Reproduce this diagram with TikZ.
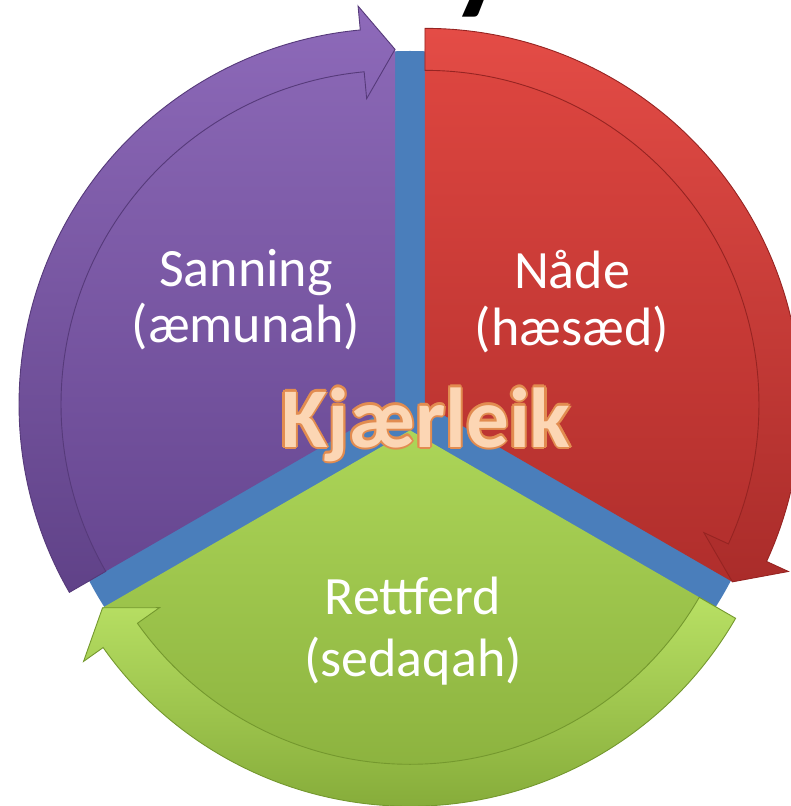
\documentclass[tikz,border=0pt]{standalone}
\usepackage{fontspec}
\setmainfont{Carlito}
\begin{document}
\begin{tikzpicture}[x=1pt,y=1pt,
  lbl/.style={text=white,font=\fontsize{54}{58}\selectfont,anchor=base,inner sep=0pt},
  kjtext/.style={font=\fontsize{85}{85}\bfseries\selectfont,anchor=base,inner sep=0pt},
  band/.style={line width=0.9pt}]

\useasboundingbox (-410,-393) rectangle (380,413);

% cut-off title above
\node [font=\fontsize{125}{125}\bfseries\selectfont,anchor=base,inner sep=0pt] (title) at (70,415) {y};

% blue disc behind
\fill [color={rgb,255:red,74;green,126;blue,187}] (0,0) circle (362);

% Sanning
\begin{scope}[shift={(150:17.3)}]
\shade [top color={rgb,255:red,138;green,103;blue,181}, bottom color={rgb,255:red,102;green,70;blue,144}]
  (0,0) -- (210:355) arc (210:90:355) -- cycle;
\shade [band, draw={rgb,255:red,86;green,58;blue,122}, top color={rgb,255:red,142;green,106;blue,186}, bottom color={rgb,255:red,96;green,66;blue,136}]
  (210:334) arc (210:95.3:334) -- (95.3:307) -- (90:355) -- (95.3:400) -- (95.3:376) arc (95.3:210:376) -- cycle;
\end{scope}

% Nade
\begin{scope}[shift={(30:17.3)}]
\shade [top color={rgb,255:red,222;green,70;blue,64}, bottom color={rgb,255:red,176;green,46;blue,44}]
  (0,0) -- (90:355) arc (90:-30:355) -- cycle;
\shade [band, draw={rgb,255:red,150;green,36;blue,34}, top color={rgb,255:red,228;green,76;blue,70}, bottom color={rgb,255:red,170;green,44;blue,42}]
  (90:334) arc (90:-24.7:334) -- (-24.7:307) -- (-30:355) -- (-24.7:400) -- (-24.7:376) arc (-24.7:90:376) -- cycle;
\end{scope}

% Rettferd
\begin{scope}[shift={(270:17.3)}]
\shade [top color={rgb,255:red,172;green,213;blue,88}, bottom color={rgb,255:red,134;green,172;blue,58}]
  (0,0) -- (330:355) arc (330:210:355) -- cycle;
\shade [band, draw={rgb,255:red,116;green,152;blue,46}, top color={rgb,255:red,184;green,224;blue,100}, bottom color={rgb,255:red,132;green,170;blue,56}]
  (330:334) arc (330:215.3:334) -- (215.3:307) -- (210:355) -- (215.3:400) -- (215.3:376) arc (215.3:330:376) -- cycle;
\end{scope}

\node [lbl] (sanning) at (-164,126) {Sanning};
\node [lbl] (emunah) at (-164,70) {(æmunah)};
\node [lbl] (nade) at (162,124) {Nåde};
\node [lbl] (hesed) at (162,67) {(hæsæd)};
\node [lbl] (rettferd) at (3,-201) {Rettferd};
\node [lbl] (sedaqah) at (3,-263) {(sedaqah)};

% centre word
\foreach \a in {0,45,...,315}
  \node [kjtext, text={rgb,255:red,226;green,140;blue,80}, shift={(\a:2.2)}] (kjo\a) at (16,-34) {Kjærleik};
\node [kjtext, text={rgb,255:red,252;green,214;blue,180}] (kjaerleik) at (16,-34) {Kjærleik};

\end{tikzpicture}
\end{document}
